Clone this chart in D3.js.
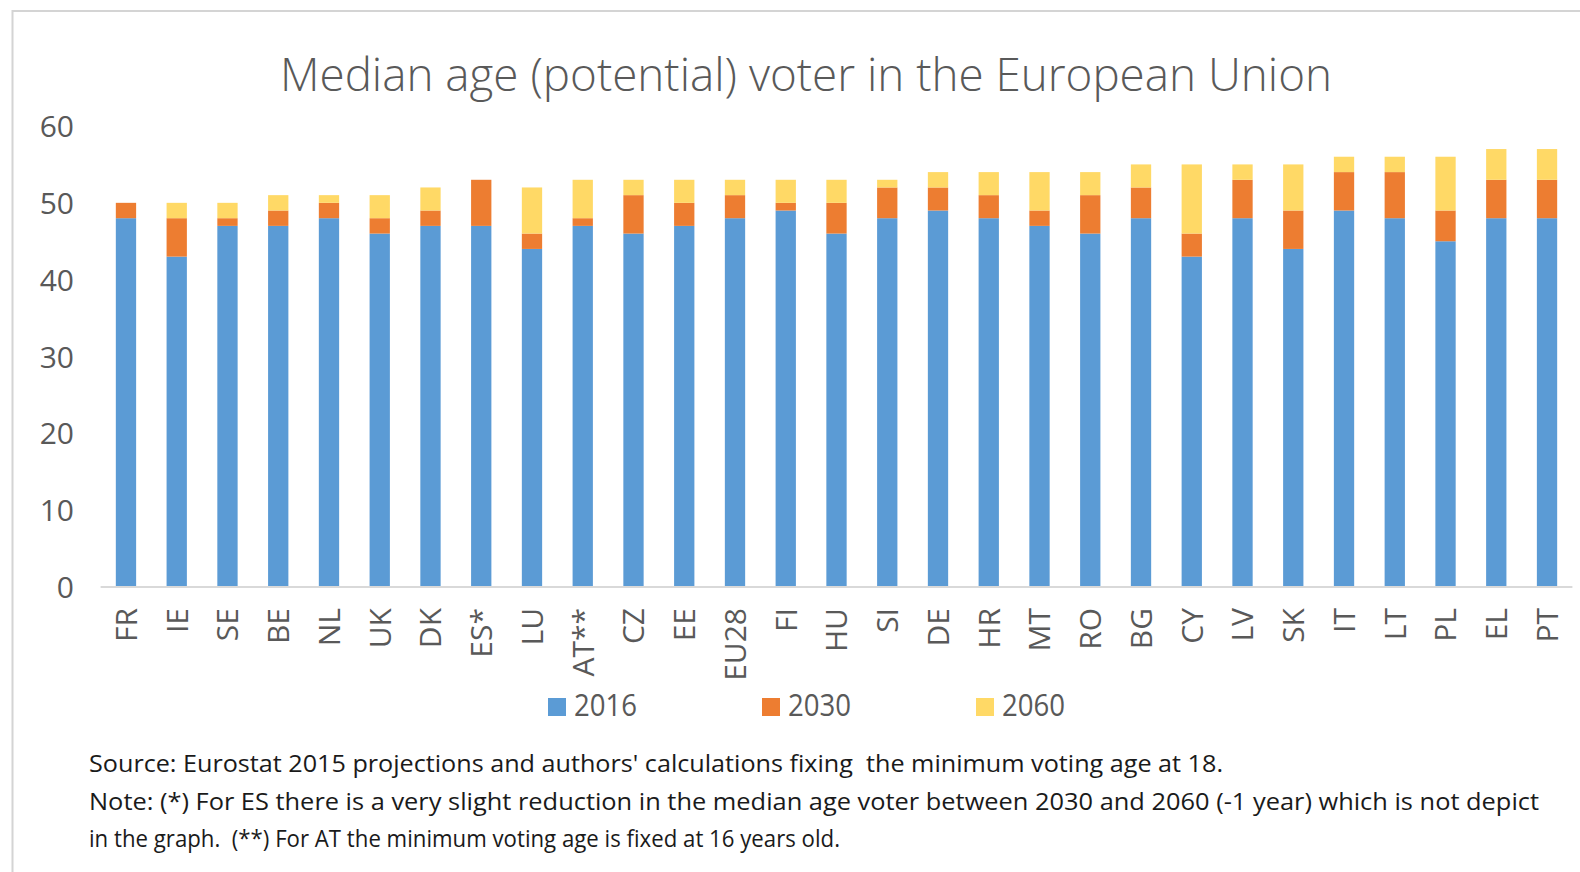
<!DOCTYPE html>
<html>
<head>
<meta charset="utf-8">
<script src="https://cdn.jsdelivr.net/npm/d3@7/dist/d3.min.js"></script>
<style>
  html, body { margin: 0; padding: 0; background: #ffffff; }
  svg { display: block; }
  .note { white-space: pre; }
</style>
</head>
<body>
<svg id="chart" width="1580" height="872"></svg>
<script>
// Countries, ordered by median age of the (potential) voter
const categories = ["FR","IE","SE","BE","NL","UK","DK","ES*","LU","AT**","CZ","EE","EU28","FI","HU",
                    "SI","DE","HR","MT","RO","BG","CY","LV","SK","IT","LT","PL","EL","PT"];
// Median age of the voter in each year
const v2016 = [48,43,47,47,48,46,47,47,44,47,46,47,48,49,46,48,49,48,47,46,48,43,48,44,49,48,45,48,48];
const v2030 = [50,48,48,49,50,48,49,53,46,48,51,50,51,50,50,52,52,51,49,51,52,46,53,49,54,54,49,53,53];
const v2060 = [50,50,50,51,51,51,52,52,52,53,53,53,53,53,53,53,54,54,54,54,55,55,55,55,56,56,56,57,57];
const seriesNames = ["2016","2030","2060"];
const yTicks = [0,10,20,30,40,50,60];
const colors = ["#5B9BD5","#ED7D31","#FFD966"];

const title = "Median age (potential) voter in the European Union";
const notes = [
  "Source: Eurostat 2015 projections and authors' calculations fixing  the minimum voting age at 18.",
  "Note: (*) For ES there is a very slight reduction in the median age voter between 2030 and 2060 (-1 year) which is not depict",
  "in the graph.  (**) For AT the minimum voting age is fixed at 16 years old."
];

const svg = d3.select("#chart");
const font = "'Open Sans', 'Noto Sans', sans-serif";
const grey = "#595959";

// Chart frame (left and top edges visible)
svg.append("rect")
  .attr("x", 12.5).attr("y", 11)
  .attr("width", 1600).attr("height", 900)
  .attr("fill", "none").attr("stroke", "#d4d4d4").attr("stroke-width", 2);

// Title
svg.append("text")
  .attr("x", 280).attr("y", 91)
  .attr("textLength", 1052).attr("lengthAdjust", "spacingAndGlyphs")
  .attr("font-family", font).attr("font-size", 46).attr("font-weight", 300)
  .attr("fill", grey)
  .text(title);

// Scales
const x = d3.scaleBand().domain(categories).range([100.6, 1572.4])
  .paddingInner(0.6).paddingOuter(0.3);
const y = d3.scaleLinear().domain([0, 60]).range([587, 126]);

// Stacked segments: each later year adds its increase on top of the previous one
const rows = categories.map((c, i) => {
  const a = v2016[i], b = v2030[i], d = v2060[i];
  const top2030 = Math.max(a, b);
  const top2060 = Math.max(top2030, d);
  return { cat: c, segs: [[0, a], [a, top2030], [top2030, top2060]] };
});

const g = svg.append("g");
rows.forEach(r => {
  r.segs.forEach((s, k) => {
    if (s[1] - s[0] <= 0) return;
    g.append("rect")
      .attr("x", x(r.cat))
      .attr("width", x.bandwidth())
      .attr("y", y(s[1]))
      .attr("height", y(s[0]) - y(s[1]))
      .attr("fill", colors[k]);
  });
});

// Y axis labels
const yAxis = d3.axisLeft(y).tickValues(yTicks).tickSize(0).tickPadding(0);
const yg = svg.append("g").attr("transform", "translate(74,0)").call(yAxis);
yg.select(".domain").remove();
yg.selectAll("text")
  .attr("font-family", font).attr("font-size", 30).attr("fill", grey)
  .attr("dy", "0.35em");

// X axis with rotated category labels
const xAxis = d3.axisBottom(x).tickSize(0).tickPadding(0);
const xg = svg.append("g").attr("transform", "translate(0,587)").call(xAxis);
xg.select(".domain").attr("stroke", "#d9d9d9").attr("stroke-width", 2)
  .attr("d", "M100.6,0H1572.4");
xg.selectAll("text")
  .attr("font-family", font).attr("font-size", 30).attr("fill", grey)
  .attr("text-anchor", "end")
  .attr("transform", "rotate(-90)")
  .attr("x", -21).attr("y", 0).attr("dy", "0.36em");

// Legend
const legendX = [548, 762, 976];
const lg = svg.append("g");
seriesNames.forEach((n, k) => {
  lg.append("rect")
    .attr("x", legendX[k]).attr("y", 698)
    .attr("width", 18).attr("height", 18)
    .attr("fill", colors[k]);
  lg.append("text")
    .attr("x", legendX[k] + 26).attr("y", 716)
    .attr("font-family", font).attr("font-size", 31).attr("fill", grey)
    .attr("textLength", 63).attr("lengthAdjust", "spacingAndGlyphs")
    .text(n);
});

// Source and notes
const noteLens = [1134, 1450, 751];
const noteY = [772, 810, 847];
notes.forEach((t, i) => {
  svg.append("text")
    .attr("class", "note")
    .attr("x", 89).attr("y", noteY[i])
    .attr("textLength", noteLens[i]).attr("lengthAdjust", "spacingAndGlyphs")
    .attr("font-family", font).attr("font-size", 24).attr("fill", "#1a1a1a")
    .text(t);
});
</script>
</body>
</html>
